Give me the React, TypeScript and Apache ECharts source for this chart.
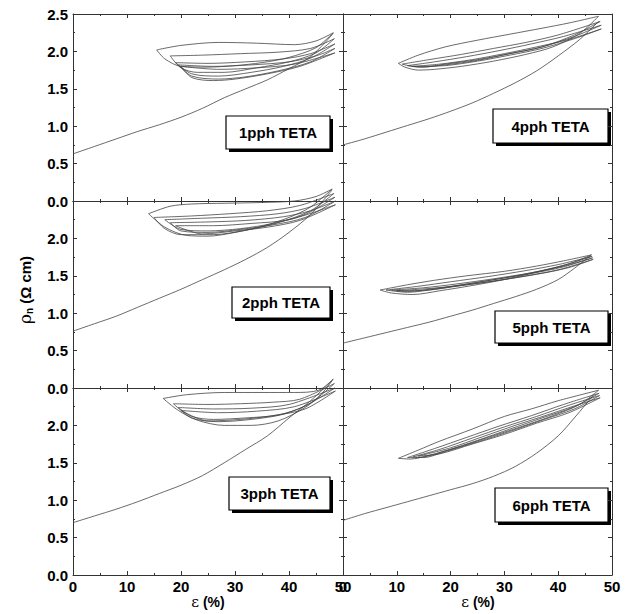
import React, { useEffect, useRef } from 'react';
import * as echarts from 'echarts';

// ---- data (ε in %, ρn in Ω cm) ----
const PANEL_LABELS = ['1pph TETA', '4pph TETA', '2pph TETA', '5pph TETA', '3pph TETA', '6pph TETA'];
const X_MIN = 0, X_MAX = 50, X_STEP = 10;
const Y_MIN = 0, Y_MAX = 2.5, Y_STEP = 0.5;

// 1pph
const load1 = [[0,0.63],[4,0.73],[8,0.83],[12,0.93],[16,1.02],[20,1.12],[24,1.24],[28,1.38],[32,1.5],[36,1.62],[40,1.77],[44,1.93],[48.2,2.24]];
const loops1 = [
  [[15.5,2.02],[20,2.08],[27,2.12],[34,2.11],[41,2.09],[45,2.14],[48.2,2.25],[45,2.05],[40,1.92],[35,1.85],[30,1.81],[25,1.79],[20,1.8],[17,1.9],[15.5,2.02]],
  [[18,1.94],[24,1.95],[31,1.97],[38,1.99],[44,2.04],[48.4,2.17],[45,1.98],[40,1.86],[34,1.78],[28,1.72],[23,1.72],[20,1.78],[18,1.94]],
  [[19,1.85],[25,1.84],[32,1.86],[39,1.9],[44,1.97],[48.5,2.1],[44,1.91],[39,1.8],[33,1.72],[27,1.67],[22,1.7],[19,1.85]],
  [[19.5,1.82],[26,1.8],[33,1.82],[40,1.86],[45,1.94],[48.5,2.04],[44,1.86],[38,1.74],[32,1.66],[27,1.63],[22,1.67],[19.5,1.82]],
  [[20,1.8],[27,1.76],[34,1.78],[41,1.83],[48.5,1.98],[42,1.8],[36,1.7],[30,1.63],[26,1.61],[22,1.65],[20,1.8]],
];

// 2pph
const load2 = [[0,0.76],[4,0.86],[8,0.96],[12,1.08],[16,1.2],[20,1.32],[24,1.45],[28,1.58],[32,1.72],[36,1.88],[40,2.08],[44,2.32],[48,2.65]];
const loops2 = [
  [[14,2.33],[18,2.43],[22,2.46],[28,2.47],[35,2.48],[41,2.5],[45,2.56],[48,2.66],[44,2.42],[40,2.28],[35,2.16],[30,2.08],[25,2.03],[21,2.04],[17,2.15],[14,2.33]],
  [[15,2.28],[22,2.3],[29,2.33],[36,2.37],[42,2.44],[48.3,2.6],[44,2.37],[38,2.21],[32,2.11],[26,2.05],[20,2.05],[17,2.13],[15,2.28]],
  [[17,2.25],[24,2.27],[31,2.29],[38,2.33],[43,2.4],[48.5,2.55],[43,2.32],[37,2.2],[31,2.13],[25,2.1],[20,2.12],[17,2.25]],
  [[18,2.21],[25,2.22],[32,2.24],[39,2.29],[44,2.37],[48.6,2.5],[43,2.28],[37,2.18],[31,2.12],[25,2.08],[20,2.1],[18,2.21]],
  [[19,2.17],[26,2.17],[33,2.2],[40,2.25],[48.6,2.45],[42,2.24],[36,2.15],[30,2.1],[24,2.06],[19,2.17]],
];

// 3pph
const load3 = [[0,0.7],[4,0.79],[8,0.88],[12,0.98],[16,1.09],[20,1.2],[24,1.33],[28,1.5],[32,1.68],[36,1.86],[40,2.1],[44,2.33],[48,2.6]];
const loops3 = [
  [[16.7,2.36],[21,2.41],[28,2.44],[35,2.44],[41,2.44],[45.5,2.47],[48.2,2.62],[46,2.42],[43,2.24],[38,2.06],[33,2.0],[28,2.0],[23,2.07],[19.5,2.2],[16.7,2.36]],
  [[18.6,2.29],[25,2.28],[31,2.29],[37,2.31],[42,2.35],[48.4,2.56],[44,2.3],[39,2.15],[33,2.08],[27,2.05],[22,2.1],[18.6,2.29]],
  [[19.5,2.24],[26,2.22],[33,2.23],[40,2.28],[48.5,2.5],[43,2.26],[38,2.14],[32,2.1],[26,2.08],[22,2.12],[19.5,2.24]],
  [[20,2.2],[27,2.17],[34,2.19],[41,2.25],[48.6,2.46],[43,2.22],[37,2.13],[31,2.08],[25,2.06],[20,2.2]],
];

// 4pph
const load4 = [[0,0.75],[4,0.83],[8,0.92],[12,1.01],[16,1.1],[20,1.2],[24,1.31],[28,1.44],[32,1.58],[36,1.74],[40,1.94],[44,2.16],[47.5,2.4]];
const loops4 = [
  [[10.3,1.84],[14,1.95],[19,2.06],[25,2.15],[31,2.23],[37,2.31],[42,2.38],[47.5,2.47],[44,2.24],[39,2.06],[34,1.96],[28,1.87],[22,1.8],[17,1.76],[14,1.75],[11.5,1.79],[10.3,1.84]],
  [[11,1.83],[16,1.89],[22,1.96],[28,2.04],[34,2.12],[40,2.22],[47.8,2.4],[43,2.22],[37,2.06],[31,1.97],[25,1.88],[19,1.82],[14,1.79],[11,1.83]],
  [[12,1.81],[17,1.86],[23,1.93],[29,2.01],[35,2.1],[41,2.2],[48,2.35],[43,2.2],[37,2.06],[31,1.97],[25,1.89],[19,1.83],[15,1.79],[12,1.81]],
  [[13,1.8],[18,1.83],[24,1.89],[30,1.97],[36,2.06],[42,2.16],[48,2.3],[43,2.17],[37,2.04],[31,1.95],[25,1.87],[19,1.81],[13,1.8]],
];

// 5pph
const load5 = [[0,0.6],[4,0.67],[8,0.74],[12,0.81],[16,0.88],[20,0.96],[24,1.04],[28,1.13],[32,1.22],[36,1.32],[40,1.45],[43,1.6],[46,1.77]];
const loops5 = [
  [[6.9,1.31],[12,1.38],[17,1.44],[23,1.5],[30,1.56],[36,1.63],[41,1.7],[46.2,1.78],[42,1.66],[36,1.55],[30,1.45],[24,1.37],[18,1.3],[13,1.25],[9,1.27],[6.9,1.31]],
  [[8,1.31],[14,1.36],[20,1.42],[27,1.49],[34,1.57],[40,1.65],[46.3,1.76],[41,1.64],[35,1.54],[29,1.46],[23,1.39],[17,1.32],[12,1.28],[8,1.31]],
  [[9,1.31],[15,1.34],[21,1.39],[28,1.46],[35,1.54],[41,1.63],[46.4,1.74],[41,1.62],[35,1.53],[29,1.46],[23,1.39],[17,1.33],[12,1.29],[9,1.31]],
  [[10,1.3],[16,1.33],[22,1.37],[29,1.44],[36,1.52],[42,1.61],[46.5,1.72],[40,1.58],[34,1.5],[28,1.43],[22,1.37],[16,1.31],[10,1.3]],
];

// 6pph
const load6 = [[0,0.73],[4,0.82],[8,0.9],[12,0.98],[16,1.06],[20,1.14],[24,1.22],[28,1.32],[32,1.45],[36,1.63],[40,1.86],[43,2.1],[46.5,2.4]];
const loops6 = [
  [[10.3,1.56],[14,1.67],[18,1.79],[24,1.95],[30,2.12],[35,2.22],[40,2.33],[47.5,2.47],[44,2.28],[39,2.13],[33,1.98],[27,1.84],[21,1.7],[16,1.6],[12.5,1.55],[10.3,1.56]],
  [[12,1.57],[17,1.69],[23,1.84],[29,1.99],[35,2.13],[41,2.28],[47.6,2.43],[43,2.25],[37,2.1],[31,1.95],[25,1.8],[19,1.66],[14,1.57],[12,1.57]],
  [[13,1.58],[18,1.68],[24,1.83],[30,1.98],[36,2.12],[42,2.27],[47.7,2.4],[43,2.22],[37,2.07],[31,1.92],[25,1.78],[19,1.65],[15,1.57],[13,1.58]],
  [[14,1.59],[20,1.7],[26,1.85],[32,2.0],[38,2.14],[43,2.26],[47.8,2.37],[42,2.17],[36,2.03],[30,1.88],[24,1.75],[18,1.62],[14,1.59]],
];

// panel order: row-major (1pph, 4pph, 2pph, 5pph, 3pph, 6pph)
const PANEL_LOADING = [load1, load4, load2, load5, load3, load6];
const PANEL_LOOPS = [loops1, loops4, loops2, loops5, loops3, loops6];

// ---- layout ----
const COLS = [{ left: 73, width: 270 }, { left: 343, width: 269 }];
const ROWS = [14, 201, 388];
const PANEL_H = 187;
const BOXES = [
  { x: 226, y: 116, w: 104, h: 33 },
  { x: 493, y: 109, w: 115, h: 34 },
  { x: 232, y: 287, w: 98, h: 31 },
  { x: 495, y: 311, w: 113, h: 32 },
  { x: 229, y: 477, w: 101, h: 33 },
  { x: 495, y: 488, w: 113, h: 34 },
];
const FONT = '"Liberation Sans", Arial, Helvetica, sans-serif';
const AXIS_COLOR = '#333';
const LINE_COLOR = '#444';

function buildOption() {
  const grid: any[] = [];
  const xAxis: any[] = [];
  const yAxis: any[] = [];
  const series: any[] = [];
  const lineStyle = { color: AXIS_COLOR, width: 1 };

  for (let i = 0; i < 6; i++) {
    const row = Math.floor(i / 2);
    const col = i % 2;
    grid.push({ left: COLS[col].left, width: COLS[col].width, top: ROWS[row], height: PANEL_H, containLabel: false });
    const common = {
      type: 'value', gridIndex: i,
      axisLine: { show: true, onZero: false, lineStyle },
      axisTick: { show: true, inside: true, length: 4, lineStyle },
      minorTick: { show: true, splitNumber: 2, length: 2, lineStyle },
      splitLine: { show: false },
      minorSplitLine: { show: false },
    };
    xAxis.push({
      ...common, min: X_MIN, max: X_MAX, interval: X_STEP, position: 'bottom',
      axisLabel: { show: row === 2, color: '#000', fontWeight: 'bold', fontSize: 15, fontFamily: FONT, margin: 4 },
    });
    xAxis.push({
      ...common, min: X_MIN, max: X_MAX, interval: X_STEP, position: 'top',
      axisLabel: { show: false },
    });
    yAxis.push({
      ...common, min: Y_MIN, max: Y_MAX, interval: Y_STEP, position: 'left',
      axisLabel: {
        show: col === 0, showMaxLabel: row === 0, color: '#000', fontWeight: 'bold', fontSize: 15, fontFamily: FONT, margin: 5,
        formatter: (v: number) => v.toFixed(1),
      },
    });
    yAxis.push({
      ...common, min: Y_MIN, max: Y_MAX, interval: Y_STEP, position: 'right',
      axisLabel: { show: false },
    });

    const base = {
      type: 'line', xAxisIndex: 2 * i, yAxisIndex: 2 * i, showSymbol: false, symbol: 'none',
      clip: false, smooth: 0.3, lineStyle: { color: LINE_COLOR, width: 0.8 }, silent: true,
    };
    series.push({ ...base, data: PANEL_LOADING[i] });
    PANEL_LOOPS[i].forEach((lp) => series.push({ ...base, data: lp }));
  }

  const graphic: any[] = [];
  BOXES.forEach((b, i) => {
    graphic.push({
      type: 'group', silent: true,
      children: [
        { type: 'rect', shape: { x: b.x + 3, y: b.y + 3, width: b.w, height: b.h }, style: { fill: '#000' } },
        { type: 'rect', shape: { x: b.x, y: b.y, width: b.w, height: b.h }, style: { fill: '#fff', stroke: '#000', lineWidth: 1.2 } },
        {
          type: 'text', x: b.x + b.w / 2, y: b.y + b.h / 2,
          style: { text: PANEL_LABELS[i], fill: '#000', font: `bold 15px ${FONT}`, textAlign: 'center', textVerticalAlign: 'middle', align: 'center', verticalAlign: 'middle' },
        },
      ],
    });
  });
  // y axis title
  graphic.push({
    type: 'text', x: 25, y: 290, rotation: Math.PI / 2, silent: true,
    style: {
      text: '{r|ρ}{s|n}{b| (Ω cm)}', fill: '#000', textAlign: 'center', textVerticalAlign: 'middle', align: 'center', verticalAlign: 'middle',
      rich: {
        r: { fontSize: 17, fontFamily: '"DejaVu Serif", serif', fill: '#000', color: '#000' },
        s: { fontSize: 10, fontFamily: FONT, fontWeight: 'bold', fill: '#000', color: '#000', padding: [8, 0, 0, 0] },
        b: { fontSize: 15, fontFamily: FONT, fontWeight: 'bold', fill: '#000', color: '#000' },
      },
    },
  });
  // x axis titles
  [208, 478].forEach((cx) => {
    graphic.push({
      type: 'text', x: cx, y: 602, silent: true,
      style: {
        text: '{e|ε}{b| (%)}', fill: '#000', textAlign: 'center', textVerticalAlign: 'middle', align: 'center', verticalAlign: 'middle',
        rich: {
          e: { fontSize: 15, fontFamily: '"DejaVu Serif", serif', fill: '#000', color: '#000' },
          b: { fontSize: 14, fontFamily: FONT, fontWeight: 'bold', fill: '#000', color: '#000' },
        },
      },
    });
  });

  return {
    animation: false,
    backgroundColor: '#fff',
    grid, xAxis, yAxis, series, graphic,
  };
}

export default function App() {
  const ref = useRef<HTMLDivElement>(null);
  useEffect(() => {
    if (!ref.current) return;
    const chart = echarts.init(ref.current, null, { renderer: 'svg' });
    chart.setOption(buildOption() as any);
    return () => chart.dispose();
  }, []);
  return <div ref={ref} style={{ position: 'fixed', left: 0, top: 0, width: 630, height: 614, background: '#fff' }} />;
}
